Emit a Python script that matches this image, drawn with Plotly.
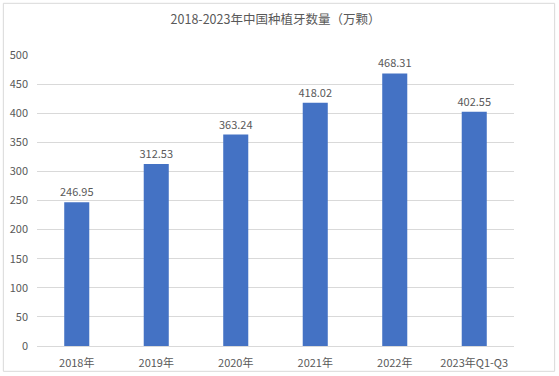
import plotly.graph_objects as go

categories = ["2018年", "2019年", "2020年", "2021年", "2022年", "2023年Q1-Q3"]
values = [246.95, 312.53, 363.24, 418.02, 468.31, 402.55]
labels = ["246.95", "312.53", "363.24", "418.02", "468.31", "402.55"]
y_ticks = [0, 50, 100, 150, 200, 250, 300, 350, 400, 450, 500]

W, H = 559, 376
L, R, T, B = 36.7, 559 - 514.3, 54.7, 376 - 345.7

font = "Noto Sans CJK SC, Noto Sans, sans-serif"
grey = "#595959"

fig = go.Figure(go.Bar(
    x=categories, y=values, text=labels, textposition="outside",
    textfont=dict(size=11, color=grey, family=font), constraintext="none",
    marker=dict(color="#4472C4", line=dict(width=0)),
    width=0.315, cliponaxis=False,
))

fig.update_layout(
    width=W, height=H,
    margin=dict(l=L, r=R, t=T, b=B, pad=0),
    paper_bgcolor="white", plot_bgcolor="white",
    showlegend=False,
    title=dict(text="2018-2023年中国种植牙数量（万颗）", x=0.5, xanchor="center",
               xref="paper", y=1 - 20 / H, yanchor="middle",
               font=dict(size=12.5, color=grey, family=font), automargin=False),
    font=dict(family=font, color=grey, size=11),
    xaxis=dict(showgrid=False, showline=False, ticks="", tickfont=dict(size=11, color=grey),
               ticklabelstandoff=9, automargin=False),
    yaxis=dict(range=[0, 500], tickvals=y_ticks, showgrid=True, gridcolor="#d9d9d9",
               gridwidth=1, zeroline=True, zerolinecolor="#d9d9d9", zerolinewidth=1,
               showline=False, ticks="", tickfont=dict(size=11, color=grey),
               ticklabelstandoff=8, automargin=False),
    shapes=[dict(type="rect", xref="paper", yref="paper",
                 x0=(3 - L) / (W - L - R), x1=(555 - L) / (W - L - R),
                 y0=-(371 - (H - B)) / (H - T - B), y1=1 + (T - 3) / (H - T - B),
                 line=dict(color="#d9d9d9", width=1), fillcolor="rgba(0,0,0,0)",
                 layer="below")],
)

fig.write_html("out.html", post_script="document.body.style.margin='0';",
               config={"displayModeBar": False})
